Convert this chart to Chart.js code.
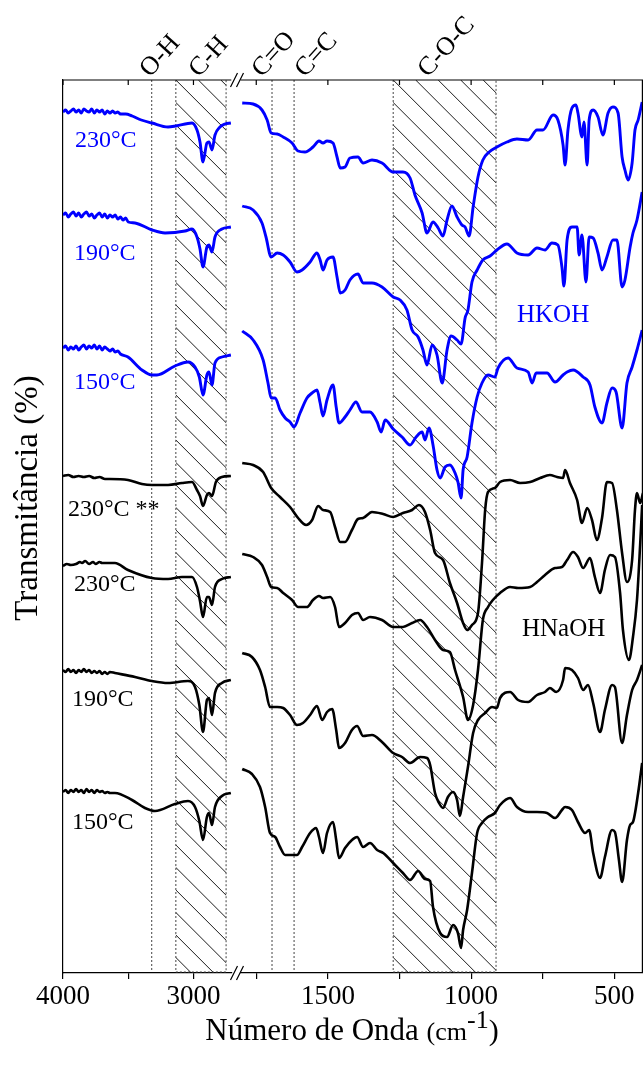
<!DOCTYPE html>
<html>
<head>
<meta charset="utf-8">
<script src="https://cdn.jsdelivr.net/npm/chart.js@4.4.1/dist/chart.umd.min.js"></script>
<style>
  html, body { margin: 0; padding: 0; background: #fff; }
  #wrap { position: relative; width: 643px; height: 1068px; }
  canvas { position: absolute; left: 0; top: 0; }
</style>
</head>
<body>
<div id="wrap">
  <canvas id="esq" width="643" height="1068"></canvas>
  <canvas id="dir" width="643" height="1068"></canvas>
</div>
<script>
// eixo quebrado (cm-1)
const faixaEsq = [2710, 4000];
const faixaDir = [400, 1805];
const ticksEsq = [3000, 3500, 4000];
const rotulosEsq = [3000, 4000];
const ticksDir = [500, 750, 1000, 1250, 1500, 1750];
const rotulosDir = [500, 1000, 1500];

// bandas marcadas
const bandaOH = 3320;
const bandaCH = [3135, 2750];
const bandaCO = 1695;
const bandaCC = 1618;
const bandaCOC = [1272, 913];

// espectros [numero de onda, transmitancia deslocada]
const hkoh230Esq = [[4000,861],[3980,863],[3960,860],[3940,862],[3920,864],[3900,861],[3880,863],[3860,860],[3840,864],[3820,862],[3800,861],[3780,864],[3760,860],[3740,863],[3720,861],[3700,863],[3680,859],[3660,862],[3640,860],[3620,862],[3600,860],[3580,861],[3560,859],[3520,859],[3470,857],[3400,853],[3318,850],[3195,846],[3134,847],[3011,850],[2973,843],[2950,831],[2927,811],[2897,830],[2881,831],[2858,823],[2835,838],[2797,846],[2759,849],[2713,850]];
const hkoh190Esq = [[4000,758],[3980,760],[3960,756],[3940,759],[3920,761],[3900,757],[3880,760],[3860,756],[3840,759],[3820,761],[3800,757],[3780,759],[3760,755],[3740,758],[3720,760],[3700,756],[3680,759],[3660,755],[3640,758],[3620,756],[3600,758],[3580,754],[3560,756],[3540,753],[3520,755],[3500,751],[3448,750],[3318,743],[3218,740],[3065,742],[3011,744],[2973,736],[2950,724],[2927,706],[2897,726],[2881,728],[2858,721],[2835,736],[2782,744],[2713,746]];
const hkoh150Esq = [[4000,625],[3980,627],[3960,623],[3940,626],[3920,624],[3900,627],[3880,623],[3860,626],[3840,628],[3820,624],[3800,627],[3780,625],[3760,628],[3740,624],[3720,627],[3700,623],[3680,626],[3660,624],[3640,622],[3620,624],[3600,621],[3580,622],[3560,619],[3502,616],[3395,603],[3318,598],[3280,598],[3142,607],[3042,611],[2988,606],[2955,596],[2927,578],[2897,598],[2881,601],[2858,588],[2835,610],[2782,616],[2713,618]];
const na230bEsq = [[4000,497],[3960,498],[3920,496],[3880,497],[3840,496],[3800,497],[3760,495],[3720,496],[3678,494],[3640,494],[3502,493],[3395,489],[3318,488],[3195,488],[3088,490],[3011,491],[2973,483],[2950,477],[2927,467],[2897,478],[2881,480],[2858,477],[2828,491],[2782,496],[2713,497]];
const na230Esq = [[4000,407],[3970,409],[3940,408],[3900,409],[3870,411],[3854,410],[3830,412],[3800,409],[3770,411],[3750,409],[3720,411],[3700,410],[3602,410],[3502,403],[3318,395],[3195,394],[3088,396],[3011,396],[2973,386],[2950,372],[2927,356],[2897,376],[2881,376],[2858,368],[2835,386],[2782,394],[2713,396]];
const na190Esq = [[4000,303],[3980,301],[3960,304],[3940,301],[3920,303],[3900,300],[3880,303],[3860,301],[3840,304],[3820,301],[3800,303],[3780,300],[3760,302],[3740,300],[3720,302],[3700,299],[3680,301],[3660,299],[3640,301],[3602,300],[3448,296],[3318,292],[3195,290],[3042,292],[2988,286],[2955,268],[2927,241],[2897,273],[2881,275],[2858,258],[2835,280],[2782,290],[2713,293]];
const na150Esq = [[4000,181],[3980,183],[3960,180],[3940,183],[3920,181],[3900,184],[3880,181],[3860,183],[3840,180],[3820,184],[3800,181],[3780,183],[3760,180],[3740,183],[3720,181],[3700,182],[3680,180],[3660,181],[3640,180],[3602,180],[3471,173],[3372,165],[3295,162],[3142,169],[3042,172],[2988,166],[2955,152],[2927,133],[2897,156],[2881,160],[2858,148],[2835,166],[2782,177],[2713,180]];

const hkoh230Dir = [[1799,870],[1761,869],[1730,863],[1712,853],[1698,840],[1677,839],[1656,836],[1625,830],[1604,822],[1580,821],[1552,826],[1531,832],[1517,830],[1503,832],[1482,830],[1468,816],[1457,805],[1440,806],[1423,815],[1395,816],[1377,810],[1346,813],[1311,810],[1272,801],[1238,801],[1213,795],[1196,778],[1171,760],[1154,740],[1133,751],[1115,745],[1098,737],[1084,753],[1067,767],[1049,756],[1032,748],[1021,746],[1007,737],[993,766],[976,796],[959,813],[937,821],[910,826],[875,831],[840,834],[801,833],[770,843],[749,843],[714,858],[697,853],[679,828],[672,808],[662,843],[648,865],[634,868],[627,860],[613,836],[606,851],[595,808],[588,853],[574,863],[557,856],[540,838],[522,860],[505,866],[487,860],[473,816],[463,803],[452,793],[438,810],[428,843],[417,853],[403,871]];
const hkoh190Dir = [[1799,767],[1761,763],[1730,750],[1716,736],[1698,716],[1677,720],[1656,718],[1632,711],[1608,701],[1590,703],[1562,711],[1538,720],[1527,713],[1517,703],[1503,713],[1482,716],[1468,696],[1457,680],[1440,683],[1423,693],[1395,699],[1377,690],[1346,690],[1311,686],[1272,676],[1248,673],[1224,663],[1206,643],[1185,636],[1168,623],[1154,608],[1136,628],[1119,618],[1101,590],[1084,623],[1070,637],[1049,633],[1035,629],[1021,655],[1011,663],[997,691],[979,703],[959,713],[934,717],[910,723],[875,729],[840,720],[801,718],[770,725],[742,723],[718,730],[697,728],[683,706],[676,687],[665,733],[648,746],[630,746],[623,718],[613,738],[599,691],[588,736],[574,735],[557,720],[543,703],[526,716],[505,733],[491,733],[473,686],[463,693],[445,726],[435,740],[421,753],[403,781]];
const hkoh150Dir = [[1799,642],[1761,633],[1726,613],[1709,590],[1698,575],[1684,575],[1667,563],[1649,555],[1632,551],[1618,546],[1597,560],[1573,575],[1555,580],[1538,583],[1527,570],[1517,557],[1503,573],[1482,588],[1471,566],[1461,550],[1440,556],[1423,563],[1402,571],[1381,561],[1353,561],[1328,551],[1314,541],[1300,553],[1272,544],[1241,536],[1213,528],[1192,536],[1171,541],[1161,533],[1147,545],[1133,528],[1119,503],[1108,495],[1091,506],[1074,508],[1056,500],[1046,491],[1035,475],[1028,503],[1014,516],[997,550],[979,576],[962,590],[941,598],[917,596],[906,605],[871,615],[840,605],[801,601],[787,590],[773,600],[735,600],[707,591],[679,598],[665,601],[644,603],[609,596],[585,588],[568,566],[543,550],[526,570],[508,585],[494,581],[473,545],[456,590],[438,606],[421,623],[403,643]];
const na230bDir = [[1799,510],[1761,508],[1726,501],[1698,485],[1667,476],[1632,466],[1604,455],[1576,448],[1555,453],[1534,467],[1517,463],[1492,461],[1475,446],[1457,431],[1440,431],[1416,443],[1395,454],[1377,455],[1346,461],[1307,459],[1272,456],[1238,460],[1206,463],[1182,468],[1161,461],[1143,443],[1126,420],[1098,413],[1074,390],[1049,370],[1028,350],[1014,343],[997,348],[976,360],[962,410],[951,463],[941,481],[917,485],[899,491],[864,493],[829,490],[794,491],[759,495],[725,498],[700,496],[679,495],[672,503],[655,490],[630,473],[613,450],[595,465],[578,453],[561,433],[543,455],[526,491],[508,490],[491,463],[473,420],[456,391],[438,413],[428,463],[421,480],[410,470],[400,480]];
const na230Dir = [[1799,419],[1761,416],[1730,408],[1712,396],[1698,386],[1677,385],[1656,380],[1625,373],[1604,366],[1573,366],[1552,373],[1531,377],[1517,375],[1492,376],[1475,366],[1461,346],[1440,350],[1416,358],[1395,360],[1377,353],[1353,356],[1311,353],[1272,346],[1238,346],[1206,350],[1178,353],[1154,346],[1126,333],[1098,323],[1074,321],[1056,303],[1028,276],[1011,253],[993,268],[976,303],[959,353],[941,366],[924,373],[899,380],[864,386],[836,385],[794,386],[770,391],[742,398],[707,405],[683,406],[665,413],[644,421],[627,416],[609,405],[585,415],[568,396],[550,380],[533,403],[515,418],[498,416],[480,380],[470,343],[449,313],[435,336],[421,373],[410,428],[403,468]];
const na190Dir = [[1799,320],[1765,316],[1737,303],[1719,286],[1702,266],[1677,266],[1656,265],[1632,258],[1608,248],[1587,250],[1562,258],[1538,267],[1520,253],[1503,261],[1485,264],[1471,243],[1461,225],[1440,230],[1416,243],[1398,247],[1377,237],[1346,238],[1311,231],[1272,220],[1241,216],[1213,210],[1178,216],[1154,215],[1143,208],[1126,180],[1112,170],[1098,165],[1081,176],[1063,181],[1049,173],[1039,157],[1028,176],[1011,206],[993,240],[976,253],[951,260],[927,266],[910,265],[899,275],[864,281],[836,273],[801,271],[770,278],[742,281],[725,285],[703,281],[679,293],[672,305],[648,303],[627,295],[609,283],[592,288],[574,270],[550,241],[533,263],[508,288],[498,286],[473,230],[456,258],[438,283],[421,293],[403,308]];
const na150Dir = [[1799,204],[1765,199],[1737,186],[1719,166],[1702,140],[1684,136],[1667,126],[1649,118],[1621,118],[1608,118],[1590,126],[1562,140],[1541,145],[1531,136],[1517,120],[1503,140],[1482,151],[1471,133],[1461,115],[1440,125],[1416,133],[1398,136],[1377,126],[1353,130],[1328,123],[1307,120],[1272,110],[1238,100],[1213,93],[1185,102],[1161,94],[1143,92],[1133,66],[1108,40],[1084,36],[1063,48],[1046,40],[1035,25],[1028,43],[1014,63],[997,100],[979,140],[962,150],[941,156],[917,160],[899,168],[864,175],[840,166],[801,161],[770,161],[735,160],[707,155],[683,163],[672,166],[648,163],[627,151],[602,140],[588,143],[574,120],[550,95],[533,116],[508,143],[498,141],[484,113],[473,91],[456,133],[445,148],[435,151],[417,180],[403,210]];

const AZUL = '#0000ff';
const PRETO = '#000000';
const FONTE = "'Liberation Serif', 'Times New Roman', serif";

Chart.defaults.font.family = FONTE;
Chart.defaults.color = '#000';

function serie(pts, cor) {
  return {
    data: pts.map(p => ({ x: p[0], y: p[1] })),
    borderColor: cor,
    borderWidth: cor === AZUL ? 2.9 : 2.6,
    pointRadius: 0,
    fill: false,
    cubicInterpolationMode: 'monotone'
  };
}

function hachura(ctx, x0, x1, top, bottom) {
  const h = bottom - top;
  ctx.save();
  ctx.beginPath();
  ctx.rect(x0, top, x1 - x0, h);
  ctx.clip();
  ctx.strokeStyle = '#000';
  ctx.lineWidth = 0.9;
  ctx.beginPath();
  for (let c = x0 - Math.ceil(h / 22.5) * 22.5; c < x1; c += 22.5) {
    ctx.moveTo(c, top);
    ctx.lineTo(c + h, bottom);
  }
  ctx.stroke();
  ctx.restore();
  ctx.save();
  ctx.setLineDash([2, 2]);
  ctx.strokeStyle = '#444';
  ctx.lineWidth = 1;
  ctx.beginPath();
  ctx.moveTo(x0, top); ctx.lineTo(x0, bottom - 1); ctx.lineTo(x1, bottom - 1); ctx.lineTo(x1, top);
  ctx.stroke();
  ctx.restore();
}

function tracejada(ctx, x, top, bottom) {
  ctx.save();
  ctx.setLineDash([2, 2]);
  ctx.strokeStyle = '#444';
  ctx.lineWidth = 1;
  ctx.beginPath();
  ctx.moveTo(x, top);
  ctx.lineTo(x, bottom - 3);
  ctx.stroke();
  ctx.restore();
}

function rotulo(ctx, txt, x, y) {
  ctx.save();
  ctx.translate(x, y);
  ctx.rotate(-48 * Math.PI / 180);
  ctx.font = '26px ' + FONTE;
  ctx.fillStyle = '#000';
  ctx.textAlign = 'left';
  ctx.textBaseline = 'alphabetic';
  ctx.fillText(txt, 0, 0);
  ctx.restore();
}

function texto(ctx, txt, x, y, cor, tam) {
  ctx.save();
  ctx.font = tam + 'px ' + FONTE;
  ctx.fillStyle = cor;
  ctx.textAlign = 'left';
  ctx.textBaseline = 'middle';
  ctx.fillText(txt, x, y);
  ctx.restore();
}

function moldura(ctx, a, x, marcas) {
  ctx.save();
  ctx.strokeStyle = '#000';
  ctx.lineWidth = 1.2;
  ctx.beginPath();
  ctx.moveTo(a.left, a.top);
  ctx.lineTo(a.right, a.top);
  marcas.forEach(v => {
    const px = x.getPixelForValue(v);
    ctx.moveTo(px, a.top);
    ctx.lineTo(px, a.top + 5);
  });
  ctx.stroke();
  ctx.restore();
}

function quebra(ctx, y) {
  ctx.save();
  ctx.strokeStyle = '#000';
  ctx.lineWidth = 1.2;
  ctx.beginPath();
  [234, 240].forEach(px => {
    ctx.moveTo(px - 3.5, y + 7);
    ctx.lineTo(px + 3.5, y - 7);
  });
  ctx.stroke();
  ctx.restore();
}

function eixoX(faixa, ticks, rotulos) {
  return {
    type: 'linear',
    reverse: true,
    min: faixa[0],
    max: faixa[1],
    afterFit: s => { s.height = 95; },
    afterBuildTicks: s => { s.ticks = ticks.map(v => ({ value: v })); },
    ticks: {
      autoSkip: false,
      maxRotation: 0,
      padding: 2,
      color: '#000',
      font: { family: FONTE, size: 27 },
      callback: v => rotulos.includes(v) ? String(v) : ''
    },
    grid: { drawOnChartArea: false, drawTicks: true, tickLength: 6, color: '#000', lineWidth: 1.2 },
    border: { display: true, color: '#000', width: 1.2 }
  };
}

const pluginEsq = {
  id: 'pluginEsq',
  beforeDatasetsDraw(chart) {
    const { ctx, chartArea: a, scales: { x } } = chart;
    hachura(ctx, x.getPixelForValue(bandaCH[0]), x.getPixelForValue(bandaCH[1]), a.top, a.bottom);
    tracejada(ctx, x.getPixelForValue(bandaOH), a.top, a.bottom);
  },
  afterDraw(chart) {
    const { ctx, chartArea: a, scales: { x } } = chart;
    moldura(ctx, a, x, ticksEsq);
    quebra(ctx, a.top);
    quebra(ctx, a.bottom);
    rotulo(ctx, 'O-H', 150, 78);
    rotulo(ctx, 'C-H', 199, 78);
    texto(ctx, '230°C', 75, 141, AZUL, 24);
    texto(ctx, '190°C', 74, 254, AZUL, 24);
    texto(ctx, '150°C', 74, 383, AZUL, 24);
    texto(ctx, '230°C **', 68, 510, PRETO, 24);
    texto(ctx, '230°C', 74, 585, PRETO, 24);
    texto(ctx, '190°C', 72, 700, PRETO, 24);
    texto(ctx, '150°C', 72, 823, PRETO, 24);
    ctx.save();
    ctx.translate(37, 498);
    ctx.rotate(-Math.PI / 2);
    ctx.font = '33px ' + FONTE;
    ctx.fillStyle = '#000';
    ctx.textAlign = 'center';
    ctx.textBaseline = 'alphabetic';
    ctx.fillText('Transmitância (%)', 0, 0);
    ctx.restore();
  }
};

const pluginDir = {
  id: 'pluginDir',
  beforeDatasetsDraw(chart) {
    const { ctx, chartArea: a, scales: { x } } = chart;
    hachura(ctx, x.getPixelForValue(bandaCOC[0]), x.getPixelForValue(bandaCOC[1]), a.top, a.bottom);
    tracejada(ctx, x.getPixelForValue(bandaCO), a.top, a.bottom);
    tracejada(ctx, x.getPixelForValue(bandaCC), a.top, a.bottom);
  },
  afterDraw(chart) {
    const { ctx, chartArea: a, scales: { x } } = chart;
    moldura(ctx, a, x, ticksDir);
    ctx.save();
    ctx.strokeStyle = '#000';
    ctx.lineWidth = 1.2;
    ctx.beginPath();
    ctx.moveTo(a.right - 0.6, a.top);
    ctx.lineTo(a.right - 0.6, a.bottom);
    ctx.stroke();
    ctx.restore();
    rotulo(ctx, 'C=O', 262, 78);
    rotulo(ctx, 'C=C', 305, 78);
    rotulo(ctx, 'C-O-C', 428, 78);
    texto(ctx, 'HKOH', 517, 315, AZUL, 25);
    texto(ctx, 'HNaOH', 522, 629, PRETO, 25);
    // titulo do eixo x
    const partes = [
      { t: 'Número de Onda ', f: 31, dy: 0 },
      { t: '(cm', f: 26, dy: 0 },
      { t: '-1', f: 26, dy: -12 },
      { t: ')', f: 30, dy: 0 }
    ];
    ctx.save();
    ctx.fillStyle = '#000';
    ctx.textBaseline = 'alphabetic';
    let total = 0;
    partes.forEach(p => { ctx.font = p.f + 'px ' + FONTE; p.w = ctx.measureText(p.t).width; total += p.w; });
    let cx = 352 - total / 2;
    partes.forEach(p => {
      ctx.font = p.f + 'px ' + FONTE;
      ctx.fillText(p.t, cx, 1040 + p.dy);
      cx += p.w;
    });
    ctx.restore();
  }
};

const yEixo = { type: 'linear', min: 0, max: 893 };

new Chart(document.getElementById('esq'), {
  type: 'line',
  data: {
    datasets: [
      serie(hkoh230Esq, AZUL), serie(hkoh190Esq, AZUL), serie(hkoh150Esq, AZUL),
      serie(na230bEsq, PRETO), serie(na230Esq, PRETO), serie(na190Esq, PRETO), serie(na150Esq, PRETO)
    ]
  },
  options: {
    responsive: false,
    animation: false,
    devicePixelRatio: 1,
    layout: { padding: { top: 80, right: 643 - 231.3, left: 0, bottom: 0 } },
    plugins: { legend: { display: false }, tooltip: { enabled: false } },
    scales: {
      x: eixoX(faixaEsq, ticksEsq, rotulosEsq),
      y: Object.assign({}, yEixo, {
        afterFit: s => { s.width = 63; },
        ticks: { display: false },
        grid: { drawOnChartArea: false, drawTicks: false },
        border: { display: true, color: '#000', width: 1.2 }
      })
    }
  },
  plugins: [pluginEsq]
});

new Chart(document.getElementById('dir'), {
  type: 'line',
  data: {
    datasets: [
      serie(hkoh230Dir, AZUL), serie(hkoh190Dir, AZUL), serie(hkoh150Dir, AZUL),
      serie(na230bDir, PRETO), serie(na230Dir, PRETO), serie(na190Dir, PRETO), serie(na150Dir, PRETO)
    ]
  },
  options: {
    responsive: false,
    animation: false,
    devicePixelRatio: 1,
    layout: { padding: { top: 80, right: 0, left: 240.5, bottom: 0 } },
    plugins: { legend: { display: false }, tooltip: { enabled: false } },
    scales: {
      x: eixoX(faixaDir, ticksDir, rotulosDir),
      y: Object.assign({}, yEixo, { display: false })
    }
  },
  plugins: [pluginDir]
});
</script>
</body>
</html>
